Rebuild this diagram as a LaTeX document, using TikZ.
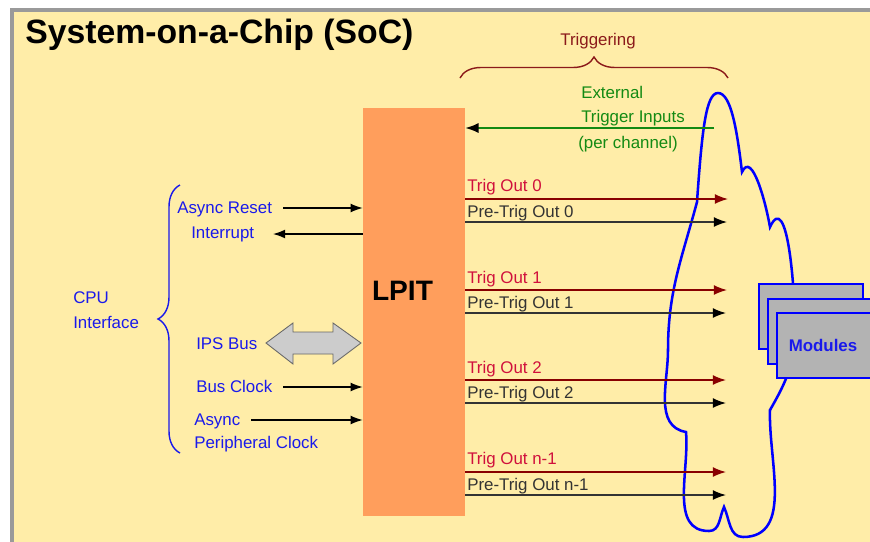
\documentclass[tikz,border=0pt]{standalone}
\usepackage{fontspec}
\setmainfont{Liberation Sans}
\usetikzlibrary{arrows.meta,decorations.pathreplacing}
\definecolor{ChipYellow}{HTML}{FFEDA8}
\definecolor{FrameGray}{HTML}{9A9A9A}
\definecolor{LpitOrange}{HTML}{FF9E5C}
\definecolor{CpuBlue}{HTML}{1A1AEB}
\definecolor{CloudBlue}{HTML}{0000FF}
\definecolor{TrigRed}{HTML}{D0103C}
\definecolor{TrigLine}{HTML}{880000}
\definecolor{BraceRed}{HTML}{8B1A1A}
\definecolor{ExtGreen}{HTML}{138A13}
\definecolor{ModGray}{HTML}{B3B3B3}
\definecolor{PreGray}{HTML}{333333}
\definecolor{BusGray}{HTML}{CCCCCC}

\begin{document}
\begin{tikzpicture}[x=0.025cm,y=-0.025cm,
lbl/.style={anchor=base west,inner sep=0pt,font=\fontsize{12}{14}\selectfont},
cpu/.style={lbl,text=CpuBlue},
trig/.style={lbl,text=TrigRed},
pretrig/.style={lbl,text=PreGray},
ext/.style={lbl,text=ExtGreen},
lpit/.style={fill=LpitOrange,minimum width=2.55cm,minimum height=10.2cm,inner sep=0pt},
module/.style={draw=CloudBlue,line width=1.4pt,fill=ModGray,minimum width=2.6cm,minimum height=1.625cm,inner sep=0pt},
arr/.style={-{Latex[length=3mm,width=2.2mm]},line width=0.9pt,draw=black},
trigarr/.style={-{Latex[length=3.3mm,width=2.5mm]},line width=1pt,draw=TrigLine},
prearr/.style={-{Latex[length=3.3mm,width=2.5mm,color=black]},line width=1pt,draw=PreGray},
extarr/.style={-{Latex[length=3.3mm,width=2.5mm,color=black]},line width=1.2pt,draw=ExtGreen},
cloud/.style={draw=CloudBlue,line width=1.8pt},
bus/.style={draw=black!60,fill=BusGray,line width=0.6pt}
]
\useasboundingbox (0,0) rectangle (870,541);
\clip (0,0) rectangle (870,541);
% chip frame
\fill[white] (0,0) rectangle (870,541);
\fill[ChipYellow] (12,10) rectangle (880,560);
\draw[FrameGray,line width=2.4pt] (12,560) -- (12,10) -- (880,10);
\node[anchor=base west,inner sep=0pt,font=\fontsize{24}{28}\selectfont\bfseries] (title) at (25,43) {System-on-a-Chip (SoC)};

% LPIT block
\node[lpit] (lpit) at (414,312) {};
\node[anchor=base,inner sep=0pt,font=\fontsize{20}{24}\selectfont\bfseries] (lpitlbl) at (402.5,300) {LPIT};

% CPU interface side
\draw[draw=CpuBlue,line width=1pt,decorate,decoration={brace,amplitude=0.55cm}] (180,453) -- (180,185);
\node[cpu] (cpu1) at (73,303) {CPU};
\node[cpu] (cpu2) at (73,328) {Interface};
\node[cpu] (rst) at (177,213) {Async Reset};
\node[cpu] (irq) at (191,238) {Interrupt};
\node[cpu] (ips) at (196,349) {IPS Bus};
\node[cpu] (bclk) at (196,392) {Bus Clock};
\node[cpu] (pclk1) at (194,425) {Async};
\node[cpu] (pclk2) at (194,448) {Peripheral Clock};
\coordinate (rstin) at (283,208);
\coordinate (irqout) at (273,234);
\coordinate (bclkin) at (283,387);
\coordinate (pclkin) at (251,420);
\draw[arr] (rstin) -- (rstin -| lpit.west);
\draw[arr] (irqout -| lpit.west) -- (irqout);
\draw[arr] (bclkin) -- (bclkin -| lpit.west);
\draw[arr] (pclkin) -- (pclkin -| lpit.west);
\draw[bus] (266,343) -- (293,323) -- (293,332) -- (333,332) -- (333,323) -- (361,343)
  -- (333,364) -- (333,354) -- (293,354) -- (293,364) -- cycle;

% peripheral cloud
\draw[cloud] (697,202) .. controls (702,130) and (706,93) .. (718,93)
  .. controls (731,93) and (737,130) .. (742,172)
  to[out=65,in=100] (770,227) to[out=65,in=90] (795,330) to[out=-90,in=60] (770,410)
  to[out=-92,in=0] (743,537) to[out=180,in=-65] (724,507) to[out=-115,in=0] (709,531)
  to[out=180,in=-85] (686,432) to[out=170,in=-90] (668,350) to[out=90,in=-105] cycle;

% triggering side
\draw[draw=BraceRed,line width=1pt,decorate,decoration={brace,amplitude=0.525cm}] (460,78) -- (728,78);
\node[lbl,anchor=base,text=BraceRed] (trigtitle) at (598,45) {Triggering};
\node[ext] (ext1) at (581,98) {External};
\node[ext] (ext2) at (581,122) {Trigger Inputs};
\node[ext] (ext3) at (578,148) {(per channel)};
\coordinate (extin) at (714,128);
\draw[extarr] (extin) -- (extin -| lpit.east);

\node[trig] (trig0) at (467,191) {Trig Out 0};
\node[pretrig] (pre0) at (467,217) {Pre-Trig Out 0};
\node[trig] (trig1) at (467,283) {Trig Out 1};
\node[pretrig] (pre1) at (467,308) {Pre-Trig Out 1};
\node[trig] (trig2) at (467,373) {Trig Out 2};
\node[pretrig] (pre2) at (467,398) {Pre-Trig Out 2};
\node[trig] (trign) at (467,464) {Trig Out n-1};
\node[pretrig] (pren) at (467,490) {Pre-Trig Out n-1};
\coordinate (t0) at (728,199);
\coordinate (p0) at (727,222);
\coordinate (t1) at (727,290);
\coordinate (p1) at (726,313);
\coordinate (t2) at (726,380);
\coordinate (p2) at (726,403);
\coordinate (tn) at (726,472);
\coordinate (pn) at (726,495);
\draw[trigarr] (t0 -| lpit.east) -- (t0);
\draw[prearr] (p0 -| lpit.east) -- (p0);
\draw[trigarr] (t1 -| lpit.east) -- (t1);
\draw[prearr] (p1 -| lpit.east) -- (p1);
\draw[trigarr] (t2 -| lpit.east) -- (t2);
\draw[prearr] (p2 -| lpit.east) -- (p2);
\draw[trigarr] (tn -| lpit.east) -- (tn);
\draw[prearr] (pn -| lpit.east) -- (pn);

% modules
\node[module] (mod1) at (811,316.5) {};
\node[module] (mod2) at (820,331.5) {};
\node[module] (mod3) at (829,345.5) {};
\node[inner sep=0pt,text=CpuBlue,font=\fontsize{12}{14}\selectfont\bfseries] (modlbl) at (823,345) {Modules};
\end{tikzpicture}
\end{document}
